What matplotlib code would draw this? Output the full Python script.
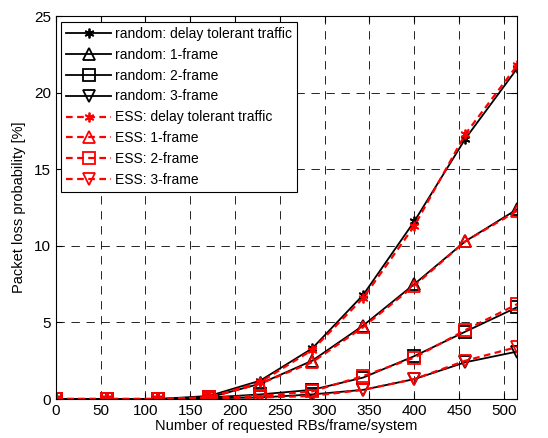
import matplotlib
matplotlib.use('Agg')
import matplotlib.pyplot as plt
import numpy as np

plt.rcParams['font.family'] = ['Liberation Sans', 'DejaVu Sans']

# requested RBs per frame per system
rbs = [0, 57, 114, 171, 228, 286, 343, 400, 457, 515]

# packet loss probability [%], random selection
rand_dt = [0, 0, 0, 0.2, 1.2, 3.3, 6.8, 11.6, 17.0, 21.6]
rand_f1 = [0, 0, 0, 0.1, 1.0, 2.5, 4.8, 7.5, 10.3, 12.4]
rand_f2 = [0, 0, 0, 0.1, 0.3, 0.6, 1.4, 2.8, 4.4, 6.0]
rand_f3 = [0, 0, 0, 0.05, 0.1, 0.3, 0.6, 1.3, 2.4, 3.1]

# packet loss probability [%], ESS
ess_dt = [0, 0, 0, 0.1, 1.1, 3.2, 6.6, 11.3, 17.3, 21.8]
ess_f1 = [0, 0, 0, 0.1, 1.0, 2.4, 4.7, 7.4, 10.3, 12.3]
ess_f2 = [0, 0, 0, 0.1, 0.2, 0.5, 1.5, 2.7, 4.5, 6.2]
ess_f3 = [0, 0, 0, 0.05, 0.1, 0.2, 0.6, 1.3, 2.5, 3.4]

labels_rand = ['random: delay tolerant traffic', 'random: 1-frame',
               'random: 2-frame', 'random: 3-frame']
labels_ess = ['ESS: delay tolerant traffic', 'ESS: 1-frame',
              'ESS: 2-frame', 'ESS: 3-frame']
# asterisk-like marker for delay tolerant traffic
markers = [(6, 2, 0), '^', 's', 'v']

fig = plt.figure(figsize=(5.48, 4.38), dpi=100)
ax = fig.add_axes([0.102, 0.089, 0.842, 0.874])

for y, lab, m in zip([rand_dt, rand_f1, rand_f2, rand_f3], labels_rand, markers):
    ax.plot(rbs, y, color='black', linestyle='-', linewidth=1.3, marker=m,
            markersize=9 if m != markers[0] else 7, markerfacecolor='none',
            markeredgecolor='black', markeredgewidth=1.3, label=lab)
for y, lab, m in zip([ess_dt, ess_f1, ess_f2, ess_f3], labels_ess, markers):
    ax.plot(rbs, y, color='red', linestyle='--', linewidth=1.6, marker=m,
            markersize=9 if m != markers[0] else 7, markerfacecolor='none',
            markeredgecolor='red', markeredgewidth=1.3, label=lab,
            dashes=(3, 2))

ax.set_xlim(0, 515)
ax.set_ylim(0, 25)
ax.set_xticks(np.arange(0, 501, 50))
ax.set_yticks(np.arange(0, 26, 5))
ax.grid(True, color='black', linestyle=(0, (10, 8)), linewidth=0.6)
ax.tick_params(direction='in', length=4, labelsize=11, top=True, right=True)
for s in ax.spines.values():
    s.set_linewidth(0.8)

ax.set_xlabel('Number of requested RBs/frame/system', fontsize=10.5, labelpad=1)
ax.set_ylabel('Packet loss probability [%]', fontsize=10.5, labelpad=6)

leg = ax.legend(loc='upper left', fontsize=10, handlelength=3.2,
                fancybox=False, edgecolor='black', framealpha=1,
                borderaxespad=0.4, labelspacing=0.5, borderpad=0.35,
                handletextpad=0.3)
leg.get_frame().set_linewidth(0.8)

fig.savefig('out.png', dpi=100)
